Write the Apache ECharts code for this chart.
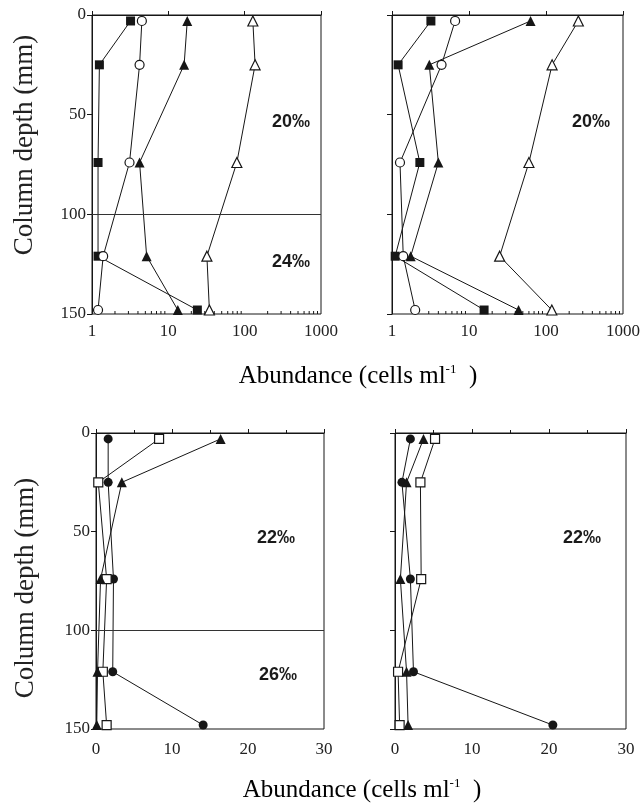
<!DOCTYPE html>
<html>
<head>
<meta charset="utf-8">
<script src="https://cdn.jsdelivr.net/npm/echarts@6/dist/echarts.min.js"></script>
<style>
  html, body { margin: 0; padding: 0; background: #fff; }
  #chart { width: 644px; height: 803px; }
</style>
</head>
<body>
<div id="chart"></div>
<script>
// Sampling depths down the column (mm)
const depths = [3, 25, 74, 121, 148];
const depthTicks = [0, 50, 100, 150];
const logTickLabels = ['1', '10', '100', '1000'];
const linTickLabels = ['0', '10', '20', '30'];

// Upper left panel (20‰ over 24‰), log abundance
const ulFilledSquare   = [3.2, 1.25, 1.2, 1.2, 24];
const ulOpenCircle     = [4.5, 4.2, 3.1, 1.4, 1.2];
const ulFilledTriangle = [17.7, 16.1, 4.2, 5.2, 13.3];
const ulOpenTriangle   = [128, 137, 79, 32, 34.5];

// Upper right panel (20‰ throughout), log abundance
const urFilledSquare   = [3.2, 1.2, 2.3, 1.1, 15.7];
const urOpenCircle     = [6.6, 4.4, 1.27, 1.4, 2.0];
const urFilledTriangle = [63, 3.05, 4.0, 1.75, 44];
const urOpenTriangle   = [263, 120, 60, 25, 119];

// Lower left panel (22‰ over 26‰), linear abundance
const llFilledCircle   = [1.6, 1.6, 2.3, 2.2, 14.1];
const llOpenSquare     = [8.3, 0.3, 1.4, 0.9, 1.4];
const llFilledTriangle = [16.4, 3.4, 0.6, 0.2, 0.1];

// Lower right panel (22‰ throughout), linear abundance
const lrFilledCircle   = [2.0, 0.9, 2.0, 2.4, 20.5];
const lrFilledTriangle = [3.7, 1.5, 0.7, 1.5, 1.7];
const lrOpenSquare     = [5.2, 3.3, 3.4, 0.4, 0.6];

// Salinity labels
const salinityLabels = [
  { text: '20‰', x: 291, y: 122 },
  { text: '24‰', x: 291, y: 262 },
  { text: '20‰', x: 591, y: 122 },
  { text: '22‰', x: 276, y: 538 },
  { text: '26‰', x: 278, y: 675 },
  { text: '22‰', x: 582, y: 538 }
];

const INK = '#161616';
const SERIF = '"Liberation Serif", "Times New Roman", serif';
const SANS = '"Liberation Sans", Arial, sans-serif';

const grids = [
  { left: 92,  top: 15,  width: 229, height: 299 },
  { left: 392, top: 15,  width: 231, height: 299 },
  { left: 96,  top: 433, width: 228, height: 296 },
  { left: 395, top: 433, width: 231, height: 296 }
].map(g => Object.assign(g, { show: true, borderColor: INK, borderWidth: 1, backgroundColor: 'transparent' }));

function logXAxis(gi) {
  return {
    type: 'log', logBase: 10, min: 1, max: 1000, gridIndex: gi,
    axisLine: { show: true, lineStyle: { color: INK, width: 1 } },
    axisTick: { show: true, inside: true, length: 4, lineStyle: { color: INK } },
    axisLabel: {
      fontFamily: SERIF, fontSize: 17, color: '#222', margin: 9,
      formatter: v => logTickLabels[Math.round(Math.log10(v))]
    },
    splitLine: { show: false }
  };
}

function linXAxis(gi) {
  return {
    type: 'value', min: 0, max: 30, interval: 10, gridIndex: gi,
    axisLine: { show: true, lineStyle: { color: INK, width: 1 } },
    axisTick: { show: true, inside: true, length: 4, lineStyle: { color: INK } },
    minorTick: { show: true, splitNumber: 2, length: 3, lineStyle: { color: INK } },
    axisLabel: {
      fontFamily: SERIF, fontSize: 17, color: '#222', margin: 12,
      formatter: v => linTickLabels[Math.round(v / 10)]
    },
    splitLine: { show: false }
  };
}

function depthAxis(gi, showLabels) {
  return {
    type: 'value', inverse: true, min: 0, max: 150, interval: 50, gridIndex: gi,
    axisLine: { show: true, lineStyle: { color: INK, width: 1 } },
    axisTick: { show: true, inside: false, length: 5, lineStyle: { color: INK } },
    axisLabel: {
      show: showLabels, fontFamily: SERIF, fontSize: 17, color: '#222', margin: 6,
      formatter: v => String(depthTicks[Math.round(v / 50)])
    },
    splitLine: { show: false }
  };
}

function profile(name, gi, values, symbol, filled) {
  return {
    type: 'line', name, xAxisIndex: gi, yAxisIndex: gi,
    data: values.map((v, i) => [v, depths[i]]),
    symbol, symbolSize: symbol === 'triangle' ? 10 : 9,
    showAllSymbol: true, clip: false,
    lineStyle: { color: INK, width: 1 },
    itemStyle: { color: filled ? INK : '#fff', borderColor: INK, borderWidth: filled ? 0 : 1.2 },
    emphasis: { disabled: true },
    z: 3
  };
}

// Horizontal rule at 100 mm separating the two salinity layers
function layerRule(gi) {
  return {
    type: 'line', xAxisIndex: gi, yAxisIndex: gi, data: [], silent: true,
    markLine: {
      silent: true, symbol: 'none', animation: false,
      label: { show: false },
      lineStyle: { color: '#333', width: 1, type: 'solid' },
      data: [{ yAxis: 100 }]
    }
  };
}

// Intermediate log-decade ticks (2..9 × 10^k) along the bottom of the log panels
const logMinorValues = [];
for (let k = 0; k < 3; k++) for (let m = 2; m <= 9; m++) logMinorValues.push(m * Math.pow(10, k));
function logMinorTicks(gi) {
  return {
    type: 'custom', xAxisIndex: gi, yAxisIndex: gi, silent: true, z: 2,
    data: logMinorValues.map(v => [v, 150]),
    renderItem: (params, api) => {
      const p = api.coord([api.value(0), api.value(1)]);
      return { type: 'line', shape: { x1: p[0], y1: p[1], x2: p[0], y2: p[1] - 3 }, style: { stroke: INK, lineWidth: 1 } };
    }
  };
}

const series = [
  logMinorTicks(0), logMinorTicks(1), layerRule(0), layerRule(2),
  profile('filled square', 0, ulFilledSquare, 'rect', true),
  profile('open circle', 0, ulOpenCircle, 'circle', false),
  profile('filled triangle', 0, ulFilledTriangle, 'triangle', true),
  profile('open triangle', 0, ulOpenTriangle, 'triangle', false),
  profile('filled square', 1, urFilledSquare, 'rect', true),
  profile('open circle', 1, urOpenCircle, 'circle', false),
  profile('filled triangle', 1, urFilledTriangle, 'triangle', true),
  profile('open triangle', 1, urOpenTriangle, 'triangle', false),
  profile('filled circle', 2, llFilledCircle, 'circle', true),
  profile('open square', 2, llOpenSquare, 'rect', false),
  profile('filled triangle', 2, llFilledTriangle, 'triangle', true),
  profile('filled circle', 3, lrFilledCircle, 'circle', true),
  profile('filled triangle', 3, lrFilledTriangle, 'triangle', true),
  profile('open square', 3, lrOpenSquare, 'rect', false)
];

const abundanceRich = {
  a: { fontFamily: SERIF, fontSize: 25, color: '#222', lineHeight: 30 },
  s: { fontFamily: SERIF, fontSize: 13, color: '#222', lineHeight: 30, verticalAlign: 'top', padding: [2, 0, 0, 0] }
};

const graphic = [
  { type: 'text', x: 358, y: 376, style: { text: '{a|Abundance (cells ml}{s|-1}{a|  )}', rich: abundanceRich, align: 'center', verticalAlign: 'middle' } },
  { type: 'text', x: 362, y: 790, style: { text: '{a|Abundance (cells ml}{s|-1}{a|  )}', rich: abundanceRich, align: 'center', verticalAlign: 'middle' } },
  { type: 'text', x: 25, y: 145, rotation: Math.PI / 2, style: { text: 'Column depth (mm)', font: '27px ' + SERIF, fill: '#222', align: 'center', verticalAlign: 'middle' } },
  { type: 'text', x: 26, y: 588, rotation: Math.PI / 2, style: { text: 'Column depth (mm)', font: '27px ' + SERIF, fill: '#222', align: 'center', verticalAlign: 'middle' } }
].concat(salinityLabels.map(l => ({
  type: 'text', x: l.x, y: l.y,
  style: { text: l.text, font: 'bold 18px ' + SANS, fill: '#1a1a1a', align: 'center', verticalAlign: 'middle' }
})));

const chart = echarts.init(document.getElementById('chart'), null, { renderer: 'canvas' });
chart.setOption({
  animation: false,
  backgroundColor: '#fff',
  grid: grids,
  xAxis: [logXAxis(0), logXAxis(1), linXAxis(2), linXAxis(3)],
  yAxis: [depthAxis(0, true), depthAxis(1, false), depthAxis(2, true), depthAxis(3, false)],
  series,
  graphic
});
</script>
</body>
</html>
